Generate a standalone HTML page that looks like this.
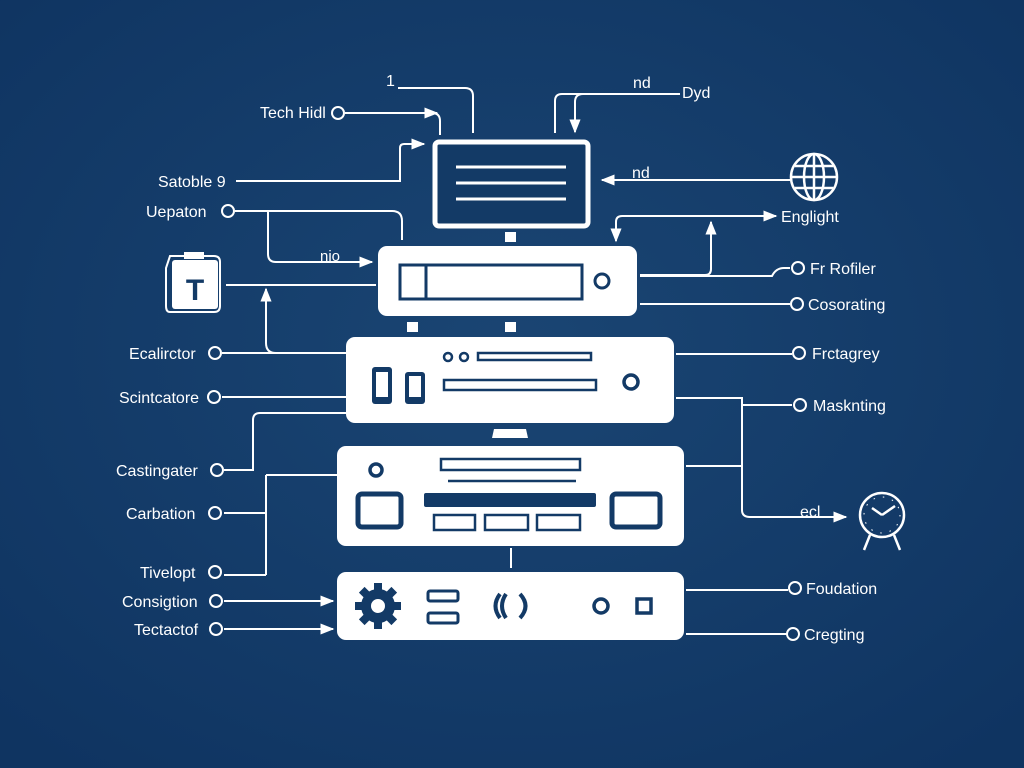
<!DOCTYPE html>
<html><head><meta charset="utf-8"><style>
html,body{margin:0;padding:0;background:#133a66;}
svg{display:block}
text{font-family:"Liberation Sans",sans-serif;fill:#fff;font-size:16px;}
</style></head><body>
<svg width="1024" height="768" viewBox="0 0 1024 768" xmlns="http://www.w3.org/2000/svg">
<defs>
<marker id="a" viewBox="0 0 10 10" refX="9" refY="5" markerWidth="7" markerHeight="7" orient="auto-start-reverse"><path d="M0,1 L10,5 L0,9 z" fill="#fff"/></marker>
<radialGradient id="bg" cx="50%" cy="45%" r="70%"><stop offset="0" stop-color="#1a4573"/><stop offset="1" stop-color="#0f3461"/></radialGradient>
</defs>
<rect width="1024" height="768" fill="url(#bg)"/>
<g fill="none" stroke="#fff" stroke-width="2">
<!-- top left connectors -->
<path d="M345,113 H432 Q440,113 440,121 V135" />
<path d="M345,113 H437" marker-end="url(#a)"/>
<path d="M398,88 H465 Q473,88 473,96 V133"/>
<path d="M236,181 H400 V148 Q400,144 404,144 H424" marker-end="url(#a)"/>
<path d="M235,211 H392 Q402,211 402,221 V240"/>
<path d="M268,211 V254 Q268,262 276,262 H372" marker-end="url(#a)"/>
<path d="M226,285 H376"/>
<path d="M222,353 H346"/>
<path d="M276,353 Q266,353 266,343 V289" marker-end="url(#a)"/>
<path d="M222,397 H346"/>
<path d="M224,470 H253 V420 Q253,413 260,413 H346"/>
<path d="M224,513 H266 M266,475 V575 M266,475 H337 M224,575 H266"/>
<path d="M224,601 H333" marker-end="url(#a)"/>
<path d="M224,629 H333" marker-end="url(#a)"/>
<!-- top right -->
<path d="M680,94 H562 Q555,94 555,101 V133"/>
<path d="M600,94 H583 Q575,94 575,102 V132" marker-end="url(#a)"/>
<path d="M790,180 H602" marker-end="url(#a)"/>
<path d="M770,216 H622 Q616,216 616,222 V241" marker-end="url(#a)"/>
<path d="M770,216 H776" marker-end="url(#a)"/>
<path d="M640,275 H705 Q711,275 711,269 V222" marker-end="url(#a)"/>
<path d="M640,276 H772 Q776,268 784,268 H790"/>
<path d="M640,304 H790"/>
<path d="M676,354 H792"/>
<path d="M676,398 H742 V510 Q742,517 750,517 H846" marker-end="url(#a)"/>
<path d="M742,405 H792 M686,466 H742"/>
<path d="M686,590 H788 M686,634 H788"/>
<path d="M511,548 V568"/>
</g>
<!-- monitor -->
<rect x="435" y="142" width="153" height="84" rx="4" fill="#133a66" stroke="#fff" stroke-width="5"/>
<g stroke="#fff" stroke-width="3"><line x1="456" y1="167" x2="566" y2="167"/><line x1="456" y1="183" x2="566" y2="183"/><line x1="456" y1="199" x2="566" y2="199"/></g>
<rect x="505" y="232" width="11" height="10" fill="#fff"/>
<!-- box1 -->
<rect x="378" y="246" width="259" height="70" rx="9" fill="#fff"/>
<rect x="400" y="265" width="182" height="34" fill="none" stroke="#133a66" stroke-width="3"/>
<line x1="426" y1="265" x2="426" y2="299" stroke="#133a66" stroke-width="3"/>
<circle cx="602" cy="281" r="7" fill="none" stroke="#133a66" stroke-width="3"/>
<rect x="407" y="322" width="11" height="10" fill="#fff"/><rect x="505" y="322" width="11" height="10" fill="#fff"/>
<!-- box2 -->
<rect x="346" y="337" width="328" height="86" rx="9" fill="#fff"/>
<circle cx="448" cy="357" r="4" fill="none" stroke="#133a66" stroke-width="2.5"/><circle cx="464" cy="357" r="4" fill="none" stroke="#133a66" stroke-width="2.5"/>
<rect x="478" y="353" width="113" height="7" fill="none" stroke="#133a66" stroke-width="2.5"/>
<rect x="444" y="380" width="152" height="10" fill="none" stroke="#133a66" stroke-width="2.5"/>
<rect x="372" y="367" width="20" height="37" rx="3" fill="#133a66"/><rect x="376" y="372" width="12" height="25" fill="#fff"/>
<rect x="405" y="372" width="20" height="32" rx="3" fill="#133a66"/><rect x="409" y="376" width="12" height="21" fill="#fff"/>
<circle cx="631" cy="382" r="7" fill="none" stroke="#133a66" stroke-width="3.5"/>
<path d="M494,429 H526 L528,438 H492 Z" fill="#fff"/>
<!-- box3 -->
<rect x="337" y="446" width="347" height="100" rx="9" fill="#fff"/>
<circle cx="376" cy="470" r="6" fill="none" stroke="#133a66" stroke-width="3.5"/>
<rect x="441" y="459" width="139" height="11" fill="none" stroke="#133a66" stroke-width="2.5"/>
<line x1="448" y1="481" x2="576" y2="481" stroke="#133a66" stroke-width="2.5"/>
<rect x="358" y="494" width="43" height="33" rx="4" fill="none" stroke="#133a66" stroke-width="5"/>
<rect x="424" y="493" width="172" height="14" rx="2" fill="#133a66"/>
<rect x="434" y="515" width="41" height="15" fill="none" stroke="#133a66" stroke-width="2.5"/>
<rect x="485" y="515" width="43" height="15" fill="none" stroke="#133a66" stroke-width="2.5"/>
<rect x="537" y="515" width="43" height="15" fill="none" stroke="#133a66" stroke-width="2.5"/>
<rect x="612" y="494" width="48" height="33" rx="4" fill="none" stroke="#133a66" stroke-width="5"/>
<!-- box4 -->
<rect x="337" y="572" width="347" height="68" rx="9" fill="#fff"/>
<g transform="translate(378,606)" fill="#133a66">
<circle r="17"/>
<g><rect x="-4" y="-23" width="8" height="46"/><rect x="-4" y="-23" width="8" height="46" transform="rotate(45)"/><rect x="-4" y="-23" width="8" height="46" transform="rotate(90)"/><rect x="-4" y="-23" width="8" height="46" transform="rotate(135)"/></g>
<circle r="7" fill="#fff"/></g>
<rect x="428" y="591" width="30" height="10" rx="2" fill="none" stroke="#133a66" stroke-width="3"/>
<rect x="428" y="613" width="30" height="10" rx="2" fill="none" stroke="#133a66" stroke-width="3"/>
<path d="M500,594 Q491,606 500,618 M506,594 Q498,606 506,618 M520,594 Q531,606 520,618" fill="none" stroke="#133a66" stroke-width="4"/>
<circle cx="601" cy="606" r="7" fill="none" stroke="#133a66" stroke-width="3.5"/>
<rect x="637" y="599" width="14" height="14" fill="none" stroke="#133a66" stroke-width="3.5"/>
<!-- T icon -->
<path d="M170,256 H214 Q220,256 220,262 V306 Q220,312 214,312 H170 Q166,312 166,306 V268 Z" fill="none" stroke="#fff" stroke-width="2"/>
<rect x="172" y="260" width="46" height="49" rx="3" fill="#fff"/>
<rect x="184" y="252" width="20" height="7" fill="#fff"/>
<text x="195" y="300" text-anchor="middle" style="font-size:30px;font-weight:bold;fill:#133a66">T</text>
<!-- globe -->
<g fill="none" stroke="#fff" stroke-width="2.5">
<circle cx="814" cy="177" r="23"/><ellipse cx="814" cy="177" rx="10" ry="23"/><line x1="814" y1="154" x2="814" y2="200"/><line x1="791" y1="177" x2="837" y2="177"/><path d="M795,166 H833 M795,188 H833"/></g>
<!-- clock -->
<g fill="none" stroke="#fff" stroke-width="2.5">
<circle cx="882" cy="515" r="22"/><path d="M870,535 L864,550 M894,535 L900,550"/><path d="M882,515 L872,508 M882,515 L895,506"/></g>
<circle cx="882" cy="515" r="18" fill="none" stroke="#fff" stroke-width="1" stroke-dasharray="1.5 8"/>
<!-- circle icons -->
<g fill="none" stroke="#fff" stroke-width="2">
<circle cx="338" cy="113" r="6"/><circle cx="228" cy="211" r="6"/><circle cx="215" cy="353" r="6"/><circle cx="214" cy="397" r="6"/><circle cx="217" cy="470" r="6"/><circle cx="215" cy="513" r="6"/><circle cx="215" cy="572" r="6"/><circle cx="216" cy="601" r="6"/><circle cx="216" cy="629" r="6"/>
<circle cx="798" cy="268" r="6"/><circle cx="797" cy="304" r="6"/><circle cx="799" cy="353" r="6"/><circle cx="800" cy="405" r="6"/><circle cx="795" cy="588" r="6"/><circle cx="793" cy="634" r="6"/></g>
<!-- labels -->
<text x="386" y="86">1</text>
<text x="260" y="118">Tech Hidl</text>
<text x="158" y="187">Satoble 9</text>
<text x="146" y="217">Uepaton</text>
<text x="320" y="261" style="font-size:15px">nio</text>
<text x="129" y="359">Ecalirctor</text>
<text x="119" y="403">Scintcatore</text>
<text x="116" y="476">Castingater</text>
<text x="126" y="519">Carbation</text>
<text x="140" y="578">Tivelopt</text>
<text x="122" y="607">Consigtion</text>
<text x="134" y="635">Tectactof</text>
<text x="633" y="88">nd</text>
<text x="682" y="98">Dyd</text>
<text x="632" y="178">nd</text>
<text x="781" y="222">Englight</text>
<text x="810" y="274">Fr Rofiler</text>
<text x="808" y="310">Cosorating</text>
<text x="812" y="359">Frctagrey</text>
<text x="813" y="411">Masknting</text>
<text x="800" y="517">ecl</text>
<text x="806" y="594">Foudation</text>
<text x="804" y="640">Cregting</text>
</svg>
</body></html>
